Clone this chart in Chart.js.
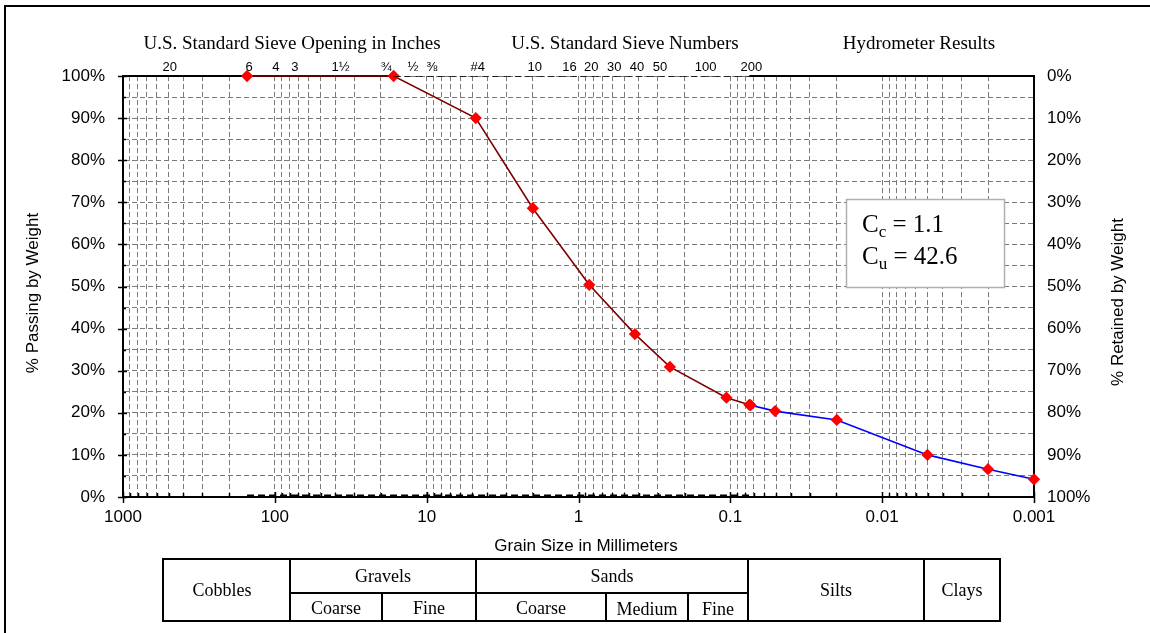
<!DOCTYPE html>
<html>
<head>
<meta charset="utf-8">
<script src="https://cdn.jsdelivr.net/npm/chart.js@4.4.1/dist/chart.umd.min.js"></script>
<style>
  body { margin: 0; background: #fff; }
  canvas { display: block; }
</style>
</head>
<body>
<canvas id="grafico" width="1150" height="633"></canvas>
<script>
// sieve analysis (grain size in mm, % passing)
const sieveSize = [152.4, 16.5, 4.75, 2.0, 0.85, 0.425, 0.25, 0.106, 0.075];
const sievePassing = [100, 100, 90.0, 68.6, 50.4, 38.7, 30.9, 23.6, 21.9];

// hydrometer results
const hydroSize = [0.0735, 0.0507, 0.0199, 0.00503, 0.00201, 0.001];
const hydroPassing = [21.8, 20.4, 18.3, 10.0, 6.6, 4.2];

// dashed helper lines along the frame
const topDashSize = [16.5, 0.075];
const topDashPct = [100, 100];
const bottomDashSize = [152.4, 0.075];
const bottomDashPct = [0.4, 0.4];

// top sieve labels and their openings in mm
const sieveLabels = ["20", "6", "4", "3", "1½", "¾", "½", "⅜", "#4", "10", "16", "20", "30", "40", "50", "100", "200"];
const sieveOpenings = [508, 152.4, 101.6, 76.2, 38.1, 19.05, 12.7, 9.525, 4.75, 2.0, 1.18, 0.85, 0.6, 0.425, 0.3, 0.15, 0.075];

const decadeValues = [1000, 100, 10, 1, 0.1, 0.01, 0.001];
const decadeLabels = ["1000", "100", "10", "1", "0.1", "0.01", "0.001"];

const groupTitles = ["U.S. Standard Sieve Opening in Inches", "U.S. Standard Sieve Numbers", "Hydrometer Results"];
const Cc = "1.1";
const Cu = "42.6";

// log grid positions 1..9 x 10^n
const gridValues = [];
for (let e = -3; e < 3; e++) {
  for (let m = 1; m < 10; m++) gridValues.push(parseFloat((m * Math.pow(10, e)).toPrecision(3)));
}
gridValues.push(1000);

function pts(xs, ys) {
  return xs.map((v, i) => ({ x: v, y: ys[i] }));
}

const SANS = "'Liberation Sans', Arial, sans-serif";
const SERIF = "'Liberation Serif', 'Times New Roman', serif";

function subText(ctx, x, y, main, sub, rest) {
  ctx.font = "25px " + SERIF;
  ctx.fillText(main, x, y);
  let w = ctx.measureText(main).width;
  ctx.font = "17px " + SERIF;
  ctx.fillText(sub, x + w, y + 5);
  w += ctx.measureText(sub).width;
  ctx.font = "25px " + SERIF;
  ctx.fillText(rest, x + w, y);
}

const decor = {
  id: "decor",
  beforeDatasetsDraw(chart) {
    const { ctx, chartArea: a, scales: { x, y } } = chart;
    ctx.save();
    ctx.strokeStyle = "#000";
    ctx.lineWidth = 2;
    ctx.beginPath();
    ctx.moveTo(a.left, a.top);
    ctx.lineTo(x.getPixelForValue(topDashSize[0]), a.top);
    ctx.moveTo(x.getPixelForValue(topDashSize[1]), a.top);
    ctx.lineTo(a.right, a.top);
    ctx.stroke();

    ctx.lineWidth = 1.5;
    x.ticks.forEach(t => {
      const px = Math.round(x.getPixelForValue(t.value)) + 0.5;
      const major = decadeValues.includes(t.value);
      ctx.beginPath();
      ctx.moveTo(px, a.bottom + (major ? 6 : 0));
      ctx.lineTo(px, a.bottom - (major ? 5 : 4));
      ctx.stroke();
    });
    y.ticks.forEach(t => {
      const py = Math.round(y.getPixelForValue(t.value)) + 0.5;
      const major = t.value % 10 === 0;
      ctx.beginPath();
      ctx.moveTo(a.left - (major ? 5 : 0), py);
      ctx.lineTo(a.left + (major ? 4 : 3), py);
      ctx.stroke();
    });
    ctx.restore();
  },
  afterDraw(chart) {
    const { ctx, scales: { x } } = chart;
    ctx.save();
    // outer frame
    ctx.strokeStyle = "#000";
    ctx.lineWidth = 2;
    ctx.beginPath();
    ctx.moveTo(5, 633);
    ctx.lineTo(5, 6);
    ctx.lineTo(1150, 6);
    ctx.stroke();

    ctx.fillStyle = "#000";
    ctx.textAlign = "center";
    ctx.textBaseline = "middle";
    ctx.font = "19px " + SERIF;
    ctx.fillText(groupTitles[0], 292, 44);
    ctx.fillText(groupTitles[1], 625, 44);
    ctx.fillText(groupTitles[2], 919, 44);

    ctx.font = "13px " + SANS;
    sieveLabels.forEach((lab, i) => {
      ctx.fillText(lab, x.getPixelForValue(sieveOpenings[i]) + 2, 67);
    });

    // axis titles
    ctx.font = "17px " + SANS;
    ctx.fillText("Grain Size in Millimeters", 586, 546);
    ctx.save();
    ctx.translate(33, 293);
    ctx.rotate(-Math.PI / 2);
    ctx.fillText("% Passing by Weight", 0, 0);
    ctx.restore();
    ctx.save();
    ctx.translate(1118, 302);
    ctx.rotate(-Math.PI / 2);
    ctx.fillText("% Retained by Weight", 0, 0);
    ctx.restore();

    // coefficient box
    ctx.fillStyle = "#fff";
    ctx.fillRect(846, 199, 158, 88);
    ctx.strokeStyle = "#b0b0b0";
    ctx.lineWidth = 1.5;
    ctx.strokeRect(846.5, 199.5, 158, 88);
    ctx.fillStyle = "#000";
    ctx.textAlign = "left";
    ctx.textBaseline = "alphabetic";
    subText(ctx, 862, 232, "C", "c", " = " + Cc);
    subText(ctx, 862, 264, "C", "u", " = " + Cu);

    // soil classification table
    ctx.strokeStyle = "#000";
    ctx.lineWidth = 2;
    ctx.strokeRect(163, 559, 837, 62);
    ctx.beginPath();
    [290, 476, 748, 924].forEach(v => { ctx.moveTo(v, 559); ctx.lineTo(v, 621); });
    ctx.moveTo(290, 593); ctx.lineTo(748, 593);
    [382, 606, 688].forEach(v => { ctx.moveTo(v, 593); ctx.lineTo(v, 621); });
    ctx.stroke();
    ctx.textAlign = "center";
    ctx.textBaseline = "middle";
    ctx.font = "18px " + SERIF;
    ctx.fillText("Cobbles", 222, 591);
    ctx.fillText("Gravels", 383, 577);
    ctx.fillText("Sands", 612, 577);
    ctx.fillText("Coarse", 336, 609);
    ctx.fillText("Fine", 429, 609);
    ctx.fillText("Coarse", 541, 609);
    ctx.fillText("Medium", 647, 610);
    ctx.fillText("Fine", 718, 610);
    ctx.fillText("Silts", 836, 591);
    ctx.fillText("Clays", 962, 591);
    ctx.restore();
  }
};

const ctx = document.getElementById("grafico").getContext("2d");
const myChart = new Chart(ctx, {
  type: "line",
  data: {
    datasets: [
      {
        label: "top",
        data: pts(topDashSize, topDashPct),
        borderColor: "#000",
        borderWidth: 1.5,
        borderDash: [7, 4],
        pointRadius: 0,
        yAxisID: "y",
      },
      {
        label: "bottom",
        data: pts(bottomDashSize, bottomDashPct),
        borderColor: "#000",
        borderWidth: 1.5,
        borderDash: [7, 4],
        pointRadius: 0,
        yAxisID: "y",
      },
      {
        label: "Sieve",
        data: pts(sieveSize, sievePassing),
        borderColor: "#800000",
        borderWidth: 1.6,
        pointStyle: "rectRot",
        pointRadius: 5,
        pointBackgroundColor: "#ff0000",
        pointBorderColor: "#ff0000",
        clip: false,
        yAxisID: "y",
      },
      {
        label: "Hydrometer",
        data: pts(hydroSize, hydroPassing),
        borderColor: "#0000ff",
        borderWidth: 1.6,
        pointStyle: "rectRot",
        pointRadius: 5,
        pointBackgroundColor: "#ff0000",
        pointBorderColor: "#ff0000",
        clip: false,
        yAxisID: "y",
      },
    ],
  },
  options: {
    responsive: false,
    animation: false,
    devicePixelRatio: 1,
    layout: { padding: { top: 76, bottom: 96, left: 0, right: 0 } },
    plugins: { legend: { display: false }, tooltip: { enabled: false } },
    elements: { line: { tension: 0 } },
    scales: {
      x: {
        type: "logarithmic",
        reverse: true,
        min: 0.001,
        max: 1000,
        afterFit: s => { s.height = 40; },
        afterBuildTicks: s => { s.ticks = gridValues.map(v => ({ value: v })); },
        grid: { color: "#7a7a7a", lineWidth: 1, drawTicks: false },
        border: { display: true, color: "#000", width: 2, dash: [5, 3] },
        ticks: {
          autoSkip: false,
          maxRotation: 0,
          padding: 10,
          color: "#000",
          font: { family: SANS, size: 17 },
          callback: v => {
            const i = decadeValues.indexOf(v);
            return i >= 0 ? decadeLabels[i] : "";
          },
        },
      },
      y: {
        position: "left",
        min: 0,
        max: 100,
        afterFit: s => { s.width = 123; },
        grid: { color: "#7a7a7a", lineWidth: 1, drawTicks: false },
        border: { display: true, color: "#000", width: 2, dash: [5, 3] },
        ticks: {
          stepSize: 5,
          autoSkip: false,
          padding: 18,
          color: "#000",
          font: { family: SANS, size: 17 },
          callback: v => (v % 10 === 0 ? v + "%" : ""),
        },
      },
      y2: {
        position: "right",
        min: 0,
        max: 100,
        reverse: true,
        afterFit: s => { s.width = 116; },
        grid: { display: false, drawTicks: false },
        border: { display: true, color: "#000", width: 2 },
        ticks: {
          stepSize: 10,
          padding: 13,
          color: "#000",
          font: { family: SANS, size: 17 },
          callback: v => v + "%",
        },
      },
    },
  },
  plugins: [decor],
});
</script>
</body>
</html>
